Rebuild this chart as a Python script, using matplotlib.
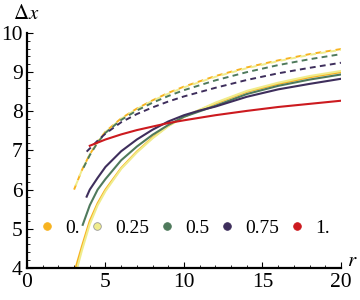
import matplotlib
matplotlib.use("Agg")
from matplotlib import pyplot as plt
from matplotlib.lines import Line2D
from matplotlib.ticker import MultipleLocator

# parameter values and colours (legend order)
labels = ["0.", "0.25", "0.5", "0.75", "1."]
colors = ["#f7b320", "#f0ec8c", "#4f7a5c", "#3e2e5c", "#cc1a1f"]

# solid curves
r_orange = [3.1, 3.5, 4, 4.5, 5, 6, 7, 8, 9, 10, 12, 14, 16, 18, 20]
y_orange = [4.0, 4.55, 5.2, 5.65, 6.0, 6.55, 6.97, 7.33, 7.63, 7.86, 8.2, 8.5, 8.7, 8.87, 9.0]
r_yellow = [3.2, 3.5, 4, 4.5, 5, 6, 7, 8, 9, 10, 12, 14, 16, 18, 20]
y_yellow = [4.0, 4.45, 5.12, 5.6, 5.96, 6.53, 6.95, 7.31, 7.62, 7.86, 8.22, 8.52, 8.73, 8.9, 9.03]
r_green = [3.55, 4, 4.5, 5, 6, 7, 8, 9, 10, 11, 12, 14, 16, 18, 20]
y_green = [5.1, 5.6, 6.0, 6.27, 6.75, 7.1, 7.4, 7.65, 7.86, 8.0, 8.14, 8.44, 8.65, 8.81, 8.94]
r_purple = [3.8, 4, 4.5, 5, 6, 7, 8, 9, 10, 11, 12, 14, 16, 18, 20]
y_purple = [5.82, 6.0, 6.3, 6.58, 6.98, 7.28, 7.53, 7.74, 7.9, 8.02, 8.12, 8.37, 8.56, 8.7, 8.83]
r_red = [4.0, 5, 6, 7, 8, 9, 10, 12, 14, 16, 18, 20]
y_red = [7.12, 7.28, 7.41, 7.52, 7.61, 7.7, 7.77, 7.9, 8.01, 8.11, 8.19, 8.27]

# dashed curves
rd_orange = [3.0, 3.5, 4, 4.5, 5, 6, 7, 8, 9, 10, 12, 14, 16, 18, 20]
yd_orange = [6.0, 6.5, 6.9, 7.22, 7.48, 7.82, 8.07, 8.28, 8.47, 8.63, 8.9, 9.12, 9.3, 9.46, 9.59]
rd_yellow = [3.1, 3.5, 4, 4.5, 5, 6, 7, 8, 9, 10, 12, 14, 16, 18, 20]
yd_yellow = [6.1, 6.5, 6.9, 7.21, 7.47, 7.81, 8.06, 8.27, 8.45, 8.61, 8.88, 9.1, 9.28, 9.44, 9.57]
rd_green = [3.6, 4, 4.5, 5, 6, 7, 8, 9, 10, 12, 14, 16, 18, 20]
yd_green = [6.56, 6.88, 7.2, 7.45, 7.78, 8.02, 8.22, 8.39, 8.54, 8.79, 9.0, 9.18, 9.33, 9.46]
rd_purple = [3.8, 4, 4.5, 5, 6, 7, 8, 9, 10, 12, 14, 16, 18, 20]
yd_purple = [6.97, 7.05, 7.25, 7.43, 7.72, 7.93, 8.1, 8.25, 8.38, 8.6, 8.8, 8.97, 9.11, 9.24]

plt.rcParams["font.family"] = ["Liberation Serif", "DejaVu Serif"]
plt.rcParams["mathtext.fontset"] = "stix"

fig = plt.figure(figsize=(3.6, 3.0), dpi=100)
ax = fig.add_axes([0.075, 0.107, 0.872, 0.783])

solid = [(r_orange, y_orange), (r_yellow, y_yellow), (r_green, y_green),
         (r_purple, y_purple), (r_red, y_red)]
dashed = [(rd_orange, yd_orange), (rd_yellow, yd_yellow), (rd_green, yd_green),
          (rd_purple, yd_purple)]

for (r, y), c in zip(dashed, colors):
    ax.plot(r, y, color=c, lw=1.4, dashes=(3, 2.2), solid_capstyle="butt")
for (r, y), c in zip(solid, colors):
    ax.plot(r, y, color=c, lw=1.5)

ax.set_xlim(0, 20)
ax.set_ylim(4, 10)
for side in ["top", "right"]:
    ax.spines[side].set_visible(False)
for side in ["left", "bottom"]:
    ax.spines[side].set_linewidth(1.6)

ax.xaxis.set_major_locator(MultipleLocator(5))
ax.xaxis.set_minor_locator(MultipleLocator(1))
ax.yaxis.set_major_locator(MultipleLocator(1))
ax.yaxis.set_minor_locator(MultipleLocator(0.2))
ax.tick_params(which="major", direction="in", length=4, width=0.8, labelsize=15.5, pad=3)
ax.tick_params(which="minor", direction="in", length=2.2, width=0.6)
ax.tick_params(axis="x", pad=4)

fig.text(0.072, 0.952, r"$\Delta x$", fontsize=15, ha="center", va="center")
fig.text(0.978, 0.128, r"$r$", fontsize=15, ha="center", va="center")

handles = [Line2D([], [], ls="none", marker="o", ms=5.5, markerfacecolor=c,
                  markeredgecolor="#999999" if i == 1 else c, markeredgewidth=0.6)
           for i, c in enumerate(colors)]
ax.legend(handles, labels, ncol=5, frameon=False, loc="center",
          bbox_to_anchor=(0.505, 0.168), fontsize=14, handlelength=0.6,
          handletextpad=0.65, columnspacing=0.6, borderaxespad=0)

fig.savefig("out.png", dpi=100)
